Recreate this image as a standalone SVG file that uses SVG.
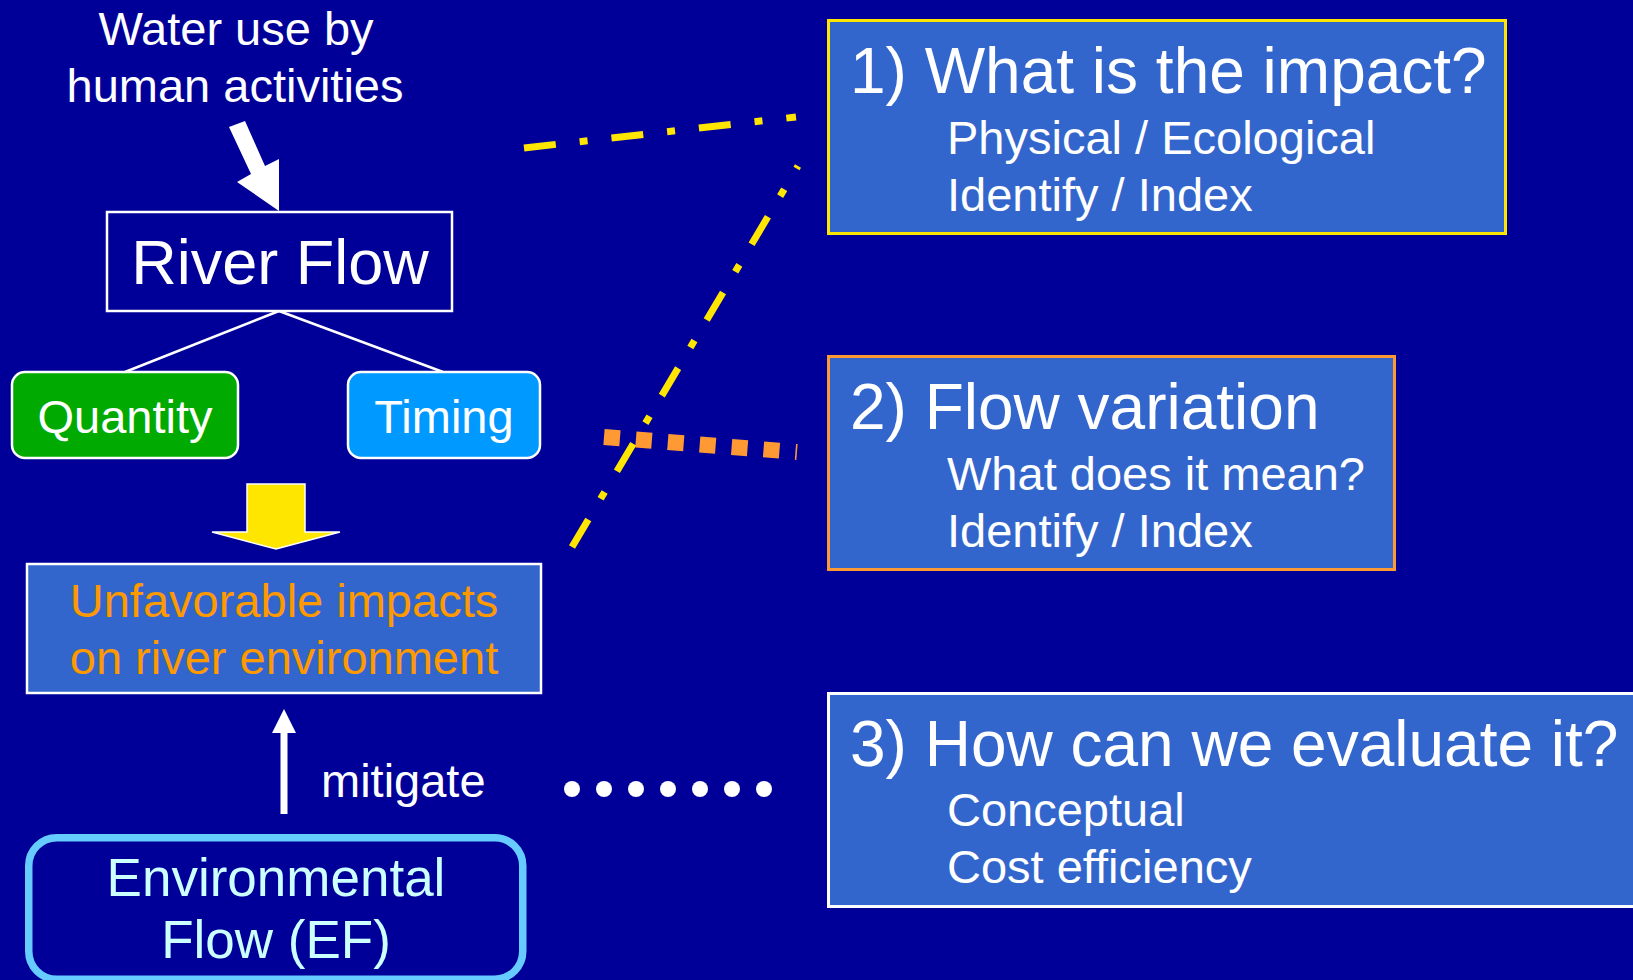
<svg xmlns="http://www.w3.org/2000/svg" width="1633" height="980" viewBox="0 0 1633 980">
  <defs>
    <style>
      text { font-family: "Liberation Sans", Arial, sans-serif; fill: #FFFFFF; }
      .mid { text-anchor: middle; }
      .t47 { font-size: 47px; }
      .t64 { font-size: 64px; }
      .panel { fill: #3366CC; }
      .link { fill: none; stroke-linecap: butt; }
      .dashdot { stroke: #FFE600; stroke-width: 7; stroke-dasharray: 32 24 8 24; }
    </style>
  </defs>

  <!-- background -->
  <rect x="0" y="0" width="1633" height="980" fill="#000099"/>

  <!-- connectors -->
  <g id="connectors">
    <!-- human use feeding into river flow -->
    <polygon points="229,127 245,121 265,166 279,159 279,211 237,182 251,174" fill="#FFFFFF"/>
    <!-- river flow split -->
    <line x1="279" y1="311" x2="125" y2="372" stroke="#FFFFFF" stroke-width="2.5"/>
    <line x1="279" y1="311" x2="443" y2="372" stroke="#FFFFFF" stroke-width="2.5"/>
    <!-- block arrow down to impacts -->
    <polygon points="247,484 305,484 305,532 340,532 276,549 212,532 247,532" fill="#FFE600" stroke="#FFFFFF" stroke-width="1.5"/>
    <!-- mitigate arrow -->
    <polygon points="280.5,814 287.5,814 287.5,733 296,733 284,709 272,733 280.5,733" fill="#FFFFFF"/>
    <!-- leader lines to the question panels -->
    <line class="link" x1="604" y1="437" x2="797" y2="452" stroke="#FF9933" stroke-width="16" stroke-dasharray="16 16"/>
    <line class="link dashdot" x1="524" y1="148" x2="796" y2="117"/>
    <line class="link dashdot" x1="572" y1="547" x2="798" y2="166"/>
    <!-- dotted link to panel 3 -->
    <g fill="#FFFFFF">
      <circle cx="572" cy="789" r="8"/>
      <circle cx="604" cy="789" r="8"/>
      <circle cx="636" cy="789" r="8"/>
      <circle cx="668" cy="789" r="8"/>
      <circle cx="700" cy="789" r="8"/>
      <circle cx="732" cy="789" r="8"/>
      <circle cx="764" cy="789" r="8"/>
    </g>
  </g>

  <!-- source label -->
  <g id="water-use">
    <text class="mid t47" x="236" y="45">Water use by</text>
    <text class="mid t47" x="235" y="102">human activities</text>
  </g>

  <g id="river-flow">
    <rect x="107" y="212" width="345" height="99" fill="#000099" stroke="#FFFFFF" stroke-width="2.5"/>
    <text class="mid" x="280" y="284" font-size="63">River Flow</text>
  </g>

  <g id="quantity">
    <rect x="12" y="372" width="226" height="86" rx="13" fill="#00AA00" stroke="#FFFFFF" stroke-width="2.5"/>
    <text class="mid t47" x="125" y="433">Quantity</text>
  </g>

  <g id="timing">
    <rect x="348" y="372" width="192" height="86" rx="13" fill="#0099FF" stroke="#FFFFFF" stroke-width="2.5"/>
    <text class="mid t47" x="444" y="433">Timing</text>
  </g>

  <g id="impacts">
    <rect class="panel" x="27" y="564" width="514" height="129" stroke="#FFFFFF" stroke-width="2.5"/>
    <text class="mid t47" x="284" y="617" style="fill:#FF9900">Unfavorable impacts</text>
    <text class="mid t47" x="284" y="674" style="fill:#FF9900">on river environment</text>
  </g>

  <g id="mitigate-label">
    <text class="t47" x="321" y="797">mitigate</text>
  </g>

  <g id="environmental-flow">
    <rect x="28.75" y="837.75" width="494" height="141.5" rx="28" fill="#000099" stroke="#66CCFF" stroke-width="7.5"/>
    <text class="mid" x="276" y="896" font-size="53" style="fill:#CCFFFF">Environmental</text>
    <text class="mid" x="276" y="958" font-size="53" style="fill:#CCFFFF">Flow (EF)</text>
  </g>

  <g id="q1-impact">
    <rect class="panel" x="828.5" y="20.5" width="677" height="213" stroke="#FFE600" stroke-width="3"/>
    <text class="t64" x="850" y="93">1) What is the impact?</text>
    <text class="t47" x="947" y="154">Physical / Ecological</text>
    <text class="t47" x="947" y="211">Identify / Index</text>
  </g>

  <g id="q2-variation">
    <rect class="panel" x="828.5" y="356.5" width="566" height="213" stroke="#FF9933" stroke-width="3"/>
    <text class="t64" x="850" y="429">2) Flow variation</text>
    <text class="t47" x="947" y="490">What does it mean?</text>
    <text class="t47" x="947" y="547">Identify / Index</text>
  </g>

  <g id="q3-evaluate">
    <rect class="panel" x="828.5" y="693.5" width="830" height="213" stroke="#FFFFFF" stroke-width="3"/>
    <text class="t64" x="850" y="766">3) How can we evaluate it?</text>
    <text class="t47" x="947" y="826">Conceptual</text>
    <text class="t47" x="947" y="883">Cost efficiency</text>
  </g>
</svg>
